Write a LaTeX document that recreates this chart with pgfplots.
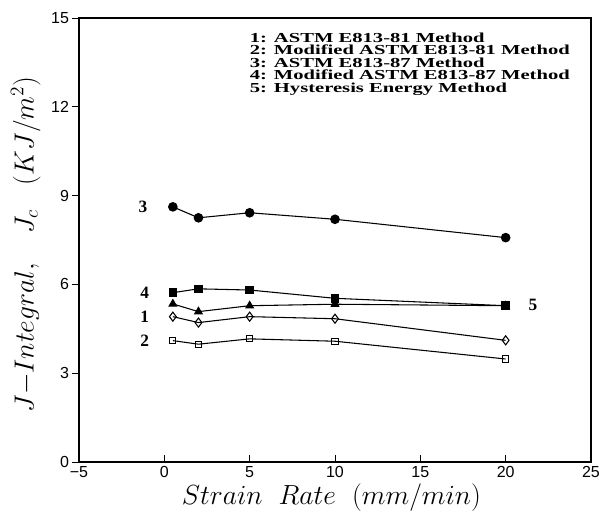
\documentclass[border=0pt]{standalone}
\usepackage{pgfplots}
\pgfplotsset{compat=1.18}
\usepackage{fontspec}
\newfontfamily\tickfont{Liberation Sans}
\newfontfamily\legfont[FakeStretch=1.5]{Liberation Serif}
\newfontfamily\numfont{Liberation Serif}
\begin{document}
\begin{tikzpicture}
\useasboundingbox (-59.25pt,-39pt) rectangle (391.5pt,346.5pt);
\begin{axis}[
  at={(0,0)}, anchor=south west,
  scale only axis, width=384pt, height=333pt,
  xmin=-5, xmax=25, ymin=0, ymax=15,
  xtick={-5,0,5,10,15,20,25},
  xticklabels={−5,0,5,10,15,20,25},
  ytick={0,3,6,9,12,15},
  yticklabels={0,3,6,9,12,15},
  ticklabel style={font=\tickfont\fontsize{12}{13}\selectfont},
  x tick style={black, line width=0.6pt}, y tick style={black,line width=0.6pt},
  xtick align=inside, ytick align=outside,
  major tick length=5pt,
  xtick pos=bottom, ytick pos=left,
  yticklabel style={xshift=1pt},
  axis line style={line width=0.8pt},
  xlabel={\fontsize{20}{24}\selectfont $Strain\ \ Rate\ \ (mm/min)$},
  ylabel={\fontsize{20.5}{24}\selectfont $J{-}Integral,\ \ \ J_c\ \ \ (KJ/m^2)$},
  xlabel style={at={(axis description cs:0.493,-0.08)}, anchor=center},
  ylabel style={at={(axis description cs:-0.104,0.49)}, anchor=center},
  every axis plot/.append style={black, line width=0.8pt},
  clip=false,
]
% series 5: Hysteresis energy (filled triangles)
\addplot[mark=triangle*, mark size=3.2pt] coordinates {(0.5,5.34)(2,5.08)(5,5.28)(10,5.33)(20,5.28)};
% series 3: ASTM E813-87 (filled circles)
\addplot[mark=*, mark size=3.2pt] coordinates {(0.5,8.62)(2,8.25)(5,8.42)(10,8.20)(20,7.58)};
% series 4: Modified ASTM E813-87 (filled squares)
\addplot[mark=square*, mark size=2.8pt] coordinates {(0.5,5.72)(2,5.85)(5,5.81)(10,5.53)(20,5.28)};
% series 1: ASTM E813-81 (open diamonds)
\addplot[mark=diamond, mark size=3.4pt, mark options={fill=white}] coordinates {(0.5,4.91)(2,4.71)(5,4.91)(10,4.84)(20,4.11)};
% series 2: Modified ASTM E813-81 (open squares)
\addplot[mark=square, mark size=2.3pt, mark options={fill=white}] coordinates {(0.5,4.10)(2,3.98)(5,4.16)(10,4.08)(20,3.48)};
\node[font=\numfont\bfseries\fontsize{13}{14}\selectfont] at (axis cs:-1.25,8.62) {3};
\node[font=\numfont\bfseries\fontsize{13}{14}\selectfont] at (axis cs:-1.15,5.72) {4};
\node[font=\numfont\bfseries\fontsize{13}{14}\selectfont] at (axis cs:-1.15,4.90) {1};
\node[font=\numfont\bfseries\fontsize{13}{14}\selectfont] at (axis cs:-1.15,4.08) {2};
\node[font=\numfont\bfseries\fontsize{13}{14}\selectfont] at (axis cs:21.6,5.30) {5};
\node[anchor=north west, align=left, inner sep=0pt,
      font=\legfont\bfseries\fontsize{10.3}{9.3}\selectfont]
  at (axis cs:5.0,14.5) {1: ASTM E813-81 Method\\2: Modified ASTM E813-81 Method\\3: ASTM E813-87 Method\\4: Modified ASTM E813-87 Method\\5: Hysteresis Energy Method};
\end{axis}
\end{tikzpicture}
\end{document}
